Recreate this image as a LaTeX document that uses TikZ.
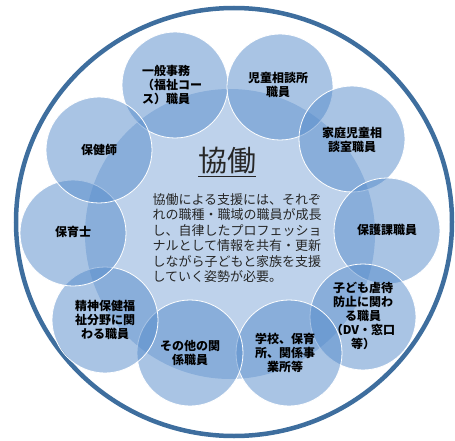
\documentclass[tikz,border=0pt]{standalone}
\usepackage{fontspec}
\newfontfamily\jp{Noto Sans CJK JP}
\definecolor{ring}{RGB}{62,110,158}
\definecolor{cblue}{RGB}{84,138,202}
\begin{document}
\begin{tikzpicture}[x=1pt,y=-1pt,
 small/.style={circle, minimum size=106pt, inner sep=0pt, fill=cblue, fill opacity=0.5, draw=white, draw opacity=1, line width=0.8pt},
 lbl/.style={font=\jp\bfseries\fontsize{12}{14.2}\selectfont, align=center, text=black, inner sep=0pt},
 body/.style={font=\jp\fontsize{13}{15.4}\selectfont, align=left, text=black!85, inner sep=0pt}
]
\useasboundingbox (0,0) rectangle (455,441);
\draw[ring, line width=4.5pt] (234,222) ellipse [x radius=218, y radius=214];
\fill[cblue, opacity=0.38] (230,234) circle (145);
\node[small] (c1) at (175,85) {};
\node[small] (c2) at (280,87) {};
\node[small] (c3) at (352,139) {};
\node[small] (c4) at (387,231) {};
\node[small] (c5) at (363,317) {};
\node[small] (c6) at (289,353) {};
\node[small] (c7) at (190,353) {};
\node[small] (c8) at (105,320) {};
\node[small] (c9) at (73,233) {};
\node[small] (c10) at (99,150) {};
\node[lbl, align=left] (t1) at (172,85) {一般事務\\（福祉コー\\ス）職員};
\node[lbl] (t2) at (278,85) {児童相談所\\職員};
\node[lbl] (t3) at (352,140) {家庭児童相\\談室職員};
\node[lbl] (t4) at (387,230) {保護課職員};
\node[lbl] (t5) at (363,316) {子ども虐待\\防止に関わ\\る職員\\（DV・窓口\\等）};
\node[lbl] (t6) at (285,353) {学校、保育\\所、関係事\\業所等};
\node[lbl] (t7) at (190,353) {その他の関\\係職員};
\node[lbl] (t8) at (105,320) {精神保健福\\祉分野に関\\わる職員};
\node[lbl] (t9) at (73,232) {保育士};
\node[lbl] (t10) at (99,150) {保健師};
\node[font=\jp\fontsize{29}{30}\selectfont, text=black!85, inner sep=0pt] (title) at (227,162) {\underline{協働}};
\node[body] (desc) at (237,238) {協働による支援には、それぞ\\れの職種・職域の職員が成長\\し、自律したプロフェッショ\\ナルとして情報を共有・更新\\しながら子どもと家族を支援\\していく姿勢が必要。};
\end{tikzpicture}
\end{document}
